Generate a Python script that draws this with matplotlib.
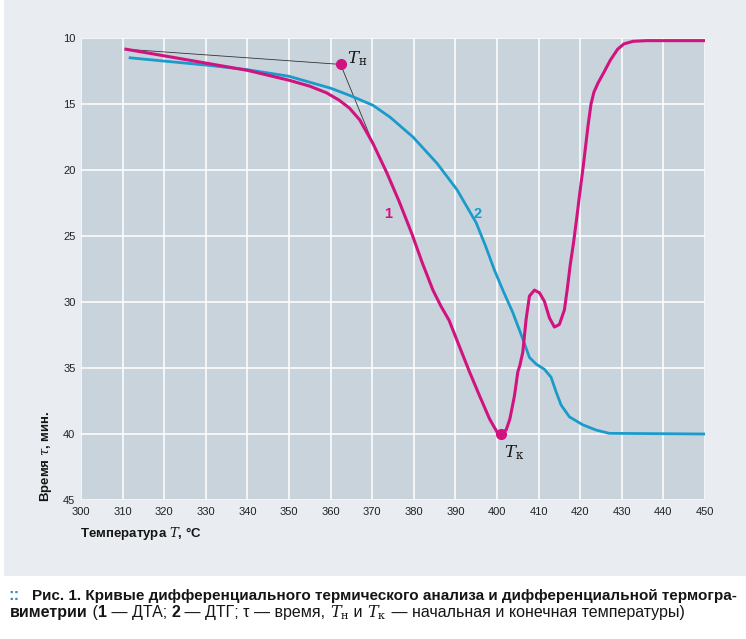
import matplotlib
matplotlib.use("Agg")
import matplotlib.pyplot as plt
from matplotlib.patches import Rectangle

plt.rcParams['font.family'] = ['Liberation Sans', 'DejaVu Sans']
plt.rcParams['mathtext.fontset'] = 'dejavuserif'

# curve 1 - DTA (temperature, time)
dta_t = [310.8, 320, 330, 340, 350, 355, 359, 362, 364.5, 367, 370.2, 373.5, 376.5,
         379.5, 382, 384.6, 386.5, 388.5, 390.5, 393.4, 395.8, 398.2, 400, 401,
         402.2, 403.1, 404.2, 405, 405.5, 406.2, 407, 407.8, 409, 410.2, 411.4,
         412.6, 413.8, 415, 416.2, 416.9, 417.6, 418.4, 419.1, 419.8, 420.7, 421.9,
         422.6, 423.3, 424.3, 425.7, 427.2, 429, 430.5, 432.7, 436, 450]
dta_tau = [10.85, 11.35, 11.9, 12.45, 13.2, 13.65, 14.15, 14.7, 15.3, 16.2, 18.0, 20.2, 22.4,
           24.8, 27.0, 29.1, 30.3, 31.4, 33.0, 35.3, 37.1, 38.85, 39.85, 39.93,
           39.7, 38.85, 37.1, 35.3, 34.8, 33.8, 31.3, 29.55, 29.1, 29.3, 29.95,
           31.2, 31.9, 31.7, 30.6, 29.0, 27.2, 25.5, 23.8, 22.0, 19.8, 16.6,
           15.0, 14.1, 13.4, 12.6, 11.7, 10.85, 10.45, 10.25, 10.2, 10.2]

# curve 2 - DTG
dtg_t = [311.8, 320, 330, 340, 350, 360, 365, 370.2, 374.3, 379.8, 385.6, 390.4,
         395, 397.3, 399.4, 401.4, 403.8, 406.2, 407.8, 409.4, 411.4, 413, 414.2,
         415.4, 417.4, 420.6, 423.8, 427, 450]
dtg_tau = [11.5, 11.75, 12.05, 12.4, 12.9, 13.8, 14.4, 15.1, 16.0, 17.5, 19.5, 21.5,
           24.0, 25.8, 27.6, 29.1, 30.8, 32.8, 34.2, 34.7, 35.1, 35.7, 36.8,
           37.8, 38.7, 39.3, 39.7, 39.95, 40.0]

# start / end temperature points and tangent lines
t_start = (362.4, 12.0)
t_end = (401.0, 40.0)
tangent_a = [(310.8, 10.85), t_start]
tangent_b = [t_start, (370.2, 18.0)]

x_ticks = list(range(300, 451, 10))
y_ticks = [10, 15, 20, 25, 30, 35, 40, 45]

MAGENTA = '#d1137f'
BLUE = '#1b9bcb'
INK = '#151515'

fig = plt.figure(figsize=(7.46, 6.39), dpi=100)
fig.patch.set_facecolor('white')
fig.add_artist(Rectangle((4 / 746, 1 - 576 / 639), 1, 576 / 639,
                         transform=fig.transFigure, facecolor='#e9edf1',
                         edgecolor='none', zorder=-10))

ax = fig.add_axes([81 / 746, 1 - 500 / 639, 624 / 746, 462 / 639])
ax.set_facecolor('#c9d3dc')
ax.set_xlim(300, 450)
ax.set_ylim(45, 10)
ax.set_xticks(x_ticks)
ax.set_yticks(y_ticks)
ax.grid(True, color='white', linewidth=1.1)
ax.set_axisbelow(True)
for s in ax.spines.values():
    s.set_visible(False)
ax.tick_params(length=0, labelsize=8, colors='#222222')
ax.tick_params(axis='x', pad=5)
ax.tick_params(axis='y', pad=4)

ax.plot([p[0] for p in tangent_a], [p[1] for p in tangent_a], color='#333333', lw=0.6, zorder=2)
ax.plot([p[0] for p in tangent_b], [p[1] for p in tangent_b], color='#333333', lw=0.6, zorder=2)
ax.plot(dtg_t, dtg_tau, color=BLUE, lw=2.0, solid_joinstyle='round', zorder=3)
ax.plot(dta_t, dta_tau, color=MAGENTA, lw=2.2, solid_joinstyle='round', zorder=4)
ax.plot(*t_start, 'o', color=MAGENTA, ms=7, zorder=5)
ax.plot(*t_end, 'o', color=MAGENTA, ms=7, zorder=5)

ax.text(364.0, 12.25, r'$\mathbf{\mathit{T}}_{\mathrm{н}}$', fontsize=12, color=INK, va='bottom')
ax.text(401.7, 41.8, r'$\mathit{T}_{\mathrm{к}}$', fontsize=12, color=INK)
ax.text(373.8, 23.3, '1', color=MAGENTA, fontsize=10.5, fontweight='bold', ha='center', va='center')
ax.text(395.4, 23.3, '2', color=BLUE, fontsize=10.5, fontweight='bold', ha='center', va='center')

fig.text(46 / 746, 1 - 502 / 639, r'Время $\tau$, мин.', rotation=90,
         ha='center', va='bottom', fontsize=9.5, fontweight='bold', color=INK)
fig.text(80 / 746, 1 - 533 / 639, r'Температура $T$, °C', ha='left', va='center',
         fontsize=9.5, fontweight='bold', color=INK)

# caption with mixed weights, sized to the reference line widths
renderer = fig.canvas.get_renderer()


def write_line(x_px, y_px, parts, size, target_w=None):
    texts = []
    for txt, weight, col in parts:
        texts.append(fig.text(0, 1 - y_px / 639, txt, fontsize=size, fontweight=weight,
                              color=col, va='baseline', ha='left'))
    if target_w:
        total = sum(t.get_window_extent(renderer=renderer).width for t in texts)
        size = size * target_w / total
        for t in texts:
            t.set_fontsize(size)
    x = x_px
    for t in texts:
        t.set_x(x / 746)
        x += t.get_window_extent(renderer=renderer).width
    return size


write_line(8, 600, [('::', 'bold', '#3f8fbf')], 12)
write_line(32, 600, [('Рис. 1. Кривые дифференциального термического анализа и дифференциальной термогра-',
                      'bold', INK)], 12, target_w=700)
write_line(10, 617, [('виметрии', 'bold', INK),
                     (' (', 'normal', INK),
                     ('1', 'bold', INK),
                     (' — ДТА; ', 'normal', INK),
                     ('2', 'bold', INK),
                     (' — ДТГ; τ — время, ', 'normal', INK),
                     (r'$T_{\mathrm{н}}$', 'normal', INK),
                     (' и ', 'normal', INK),
                     (r'$T_{\mathrm{к}}$', 'normal', INK),
                     (' — начальная и конечная температуры)', 'normal', INK)], 12, target_w=673)

fig.savefig('out.png', dpi=100, facecolor=fig.get_facecolor())
